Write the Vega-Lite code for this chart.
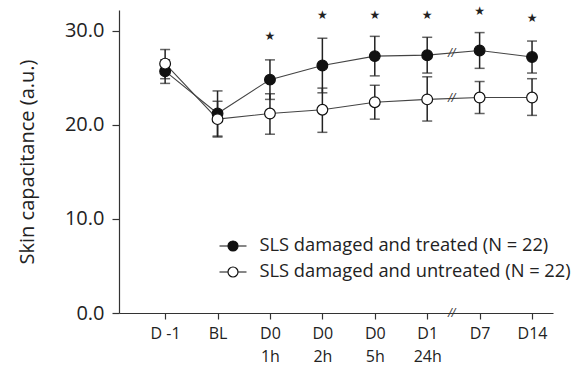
{
  "$schema": "https://vega.github.io/schema/vega-lite/v6.json",
  "width": 434,
  "height": 303,
  "autosize": {"type": "none"},
  "padding": {"left": 119, "top": 10, "right": 26, "bottom": 54},
  "background": "white",
  "config": {
    "view": {"stroke": null},
    "font": "Open Sans",
    "axis": {"domainColor": "#333", "tickColor": "#333", "domainWidth": 1.2, "tickWidth": 1.2, "labelColor": "#222", "titleColor": "#222", "grid": false, "labelFont": "Open Sans", "titleFont": "Open Sans"}
  },
  "datasets": {
    "series": [
      {"t": 0, "group": "SLS damaged and treated (N = 22)", "m": 25.7, "lo": 24.4, "hi": 26.9},
      {"t": 1, "group": "SLS damaged and treated (N = 22)", "m": 21.2, "lo": 18.8, "hi": 23.6},
      {"t": 2, "group": "SLS damaged and treated (N = 22)", "m": 24.8, "lo": 22.7, "hi": 26.9},
      {"t": 3, "group": "SLS damaged and treated (N = 22)", "m": 26.3, "lo": 23.4, "hi": 29.2},
      {"t": 4, "group": "SLS damaged and treated (N = 22)", "m": 27.3, "lo": 25.2, "hi": 29.4},
      {"t": 5, "group": "SLS damaged and treated (N = 22)", "m": 27.4, "lo": 25.5, "hi": 29.3},
      {"t": 6, "group": "SLS damaged and treated (N = 22)", "m": 27.9, "lo": 26.0, "hi": 29.8},
      {"t": 7, "group": "SLS damaged and treated (N = 22)", "m": 27.2, "lo": 25.5, "hi": 28.9},
      {"t": 0, "group": "SLS damaged and untreated (N = 22)", "m": 26.5, "lo": 24.9, "hi": 28.0},
      {"t": 1, "group": "SLS damaged and untreated (N = 22)", "m": 20.6, "lo": 18.7, "hi": 22.5},
      {"t": 2, "group": "SLS damaged and untreated (N = 22)", "m": 21.2, "lo": 19.0, "hi": 23.3},
      {"t": 3, "group": "SLS damaged and untreated (N = 22)", "m": 21.6, "lo": 19.2, "hi": 23.9},
      {"t": 4, "group": "SLS damaged and untreated (N = 22)", "m": 22.4, "lo": 20.6, "hi": 24.2},
      {"t": 5, "group": "SLS damaged and untreated (N = 22)", "m": 22.7, "lo": 20.4, "hi": 25.1},
      {"t": 6, "group": "SLS damaged and untreated (N = 22)", "m": 22.9, "lo": 21.2, "hi": 24.6},
      {"t": 7, "group": "SLS damaged and untreated (N = 22)", "m": 22.9, "lo": 21.0, "hi": 24.9}
    ],
    "stars": [
      {"t": 2, "y": 29.4},
      {"t": 3, "y": 31.7},
      {"t": 4, "y": 31.7},
      {"t": 5, "y": 31.7},
      {"t": 6, "y": 32.1},
      {"t": 7, "y": 31.35}
    ],
    "breaks": [
      {"t": 5.47, "y": 27.6},
      {"t": 5.47, "y": 22.8},
      {"t": 5.47, "y": 0}
    ]
  },
  "encoding": {
    "x": {
      "field": "t", "type": "quantitative",
      "scale": {"domain": [-0.88, 7.4], "nice": false, "zero": false},
      "axis": {
        "title": null,
        "values": [0, 1, 2, 3, 4, 5, 6, 7],
        "labelExpr": "[['D -1'],['BL'],['D0','1h'],['D0','2h'],['D0','5h'],['D1','24h'],['D7'],['D14']][datum.value]",
        "labelFontSize": 16,
        "labelLineHeight": 23,
        "labelBaseline": "top",
        "labelPadding": 6,
        "tickSize": 6,
        "labelFlush": false,
        "labelOverlap": false
      }
    }
  },
  "layer": [
    {
      "data": {"name": "series"},
      "mark": {"type": "rule", "color": "#222", "strokeWidth": 1.5},
      "encoding": {
        "y": {"field": "lo", "type": "quantitative",
          "scale": {"domain": [0, 32.2], "nice": false},
          "axis": {"values": [0, 10, 20, 30], "format": ".1f", "labelFontSize": 20, "tickSize": 7, "labelPadding": 8,
            "title": "Skin capacitance (a.u.)", "titleFontSize": 20, "titleFontWeight": "normal", "titlePadding": 27}},
        "y2": {"field": "hi"}
      }
    },
    {
      "data": {"name": "series"},
      "mark": {"type": "tick", "orient": "horizontal", "color": "#222", "size": 10, "thickness": 1.5},
      "encoding": {"y": {"field": "lo", "type": "quantitative"}}
    },
    {
      "data": {"name": "series"},
      "mark": {"type": "tick", "orient": "horizontal", "color": "#222", "size": 10, "thickness": 1.5},
      "encoding": {"y": {"field": "hi", "type": "quantitative"}}
    },
    {
      "data": {"name": "series"},
      "mark": {"type": "line", "color": "#444", "strokeWidth": 1.1},
      "encoding": {
        "y": {"field": "m", "type": "quantitative"},
        "detail": {"field": "group"}
      }
    },
    {
      "data": {"name": "series"},
      "mark": {"type": "point", "shape": "circle", "filled": true, "size": 115, "stroke": "#111", "strokeWidth": 1.2, "opacity": 1},
      "encoding": {
        "y": {"field": "m", "type": "quantitative"},
        "fill": {
          "field": "group", "type": "nominal",
          "scale": {"domain": ["SLS damaged and treated (N = 22)", "SLS damaged and untreated (N = 22)"], "range": ["#111111", "#ffffff"]},
          "legend": {
            "orient": "none", "legendX": 99.5, "legendY": 221.5, "title": null, "padding": 0, "rowPadding": 3,
            "symbolType": "M-1,0H-0.37M0.37,0H1M0.37,0A0.37,0.37,0,1,1,-0.37,0A0.37,0.37,0,1,1,0.37,0Z",
            "symbolSize": 729, "symbolStrokeWidth": 1.2, "symbolStrokeColor": "#111",
            "labelFontSize": 18.3, "labelFont": "Open Sans", "labelColor": "#222", "labelOffset": 12, "labelLimit": 400
          }
        }
      }
    },
    {
      "data": {"name": "stars"},
      "mark": {"type": "text", "text": "★", "font": "DejaVu Sans", "fontSize": 12, "color": "#222"},
      "encoding": {"y": {"field": "y", "type": "quantitative"}}
    },
    {
      "data": {"name": "breaks"},
      "mark": {"type": "text", "text": "//", "font": "DejaVu Sans", "fontSize": 11, "color": "#333", "fontStyle": "italic"},
      "encoding": {"y": {"field": "y", "type": "quantitative"}}
    }
  ]
}
